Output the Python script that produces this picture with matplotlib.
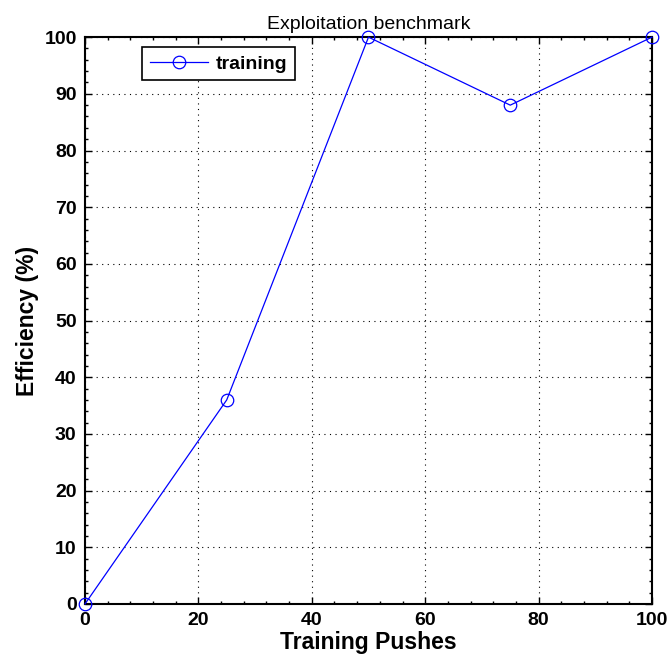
import matplotlib
matplotlib.use('Agg')
import matplotlib.pyplot as plt
from matplotlib.ticker import MultipleLocator

# data
pushes = [0, 25, 50, 75, 100]
efficiency = [0, 36, 100, 88, 100]

plt.rcParams['font.family'] = ['Liberation Sans', 'DejaVu Sans']

fig = plt.figure(figsize=(6.69, 6.63), dpi=100)
ax = fig.add_axes([0.127, 0.089, 0.8476, 0.855])

ax.plot(pushes, efficiency, color='blue', linewidth=0.9, marker='o',
        markersize=9, markerfacecolor='none', markeredgecolor='blue',
        markeredgewidth=0.9, label='training', clip_on=False, zorder=5)

ax.set_xlim(0, 100)
ax.set_ylim(0, 100)
ax.xaxis.set_major_locator(MultipleLocator(20))
ax.yaxis.set_major_locator(MultipleLocator(10))
ax.xaxis.set_minor_locator(MultipleLocator(4))
ax.yaxis.set_minor_locator(MultipleLocator(2))

ax.grid(True, which='major', linestyle=(0, (1, 4)), color='black', linewidth=0.8)
ax.tick_params(which='both', direction='in', top=True, right=True,
               labelsize=14, width=1.0)
ax.tick_params(which='major', length=5, pad=6)
ax.tick_params(which='minor', length=2.5)
for lbl in ax.get_xticklabels() + ax.get_yticklabels():
    lbl.set_fontweight('bold')
for sp in ax.spines.values():
    sp.set_linewidth(1.5)

ax.set_xlabel('Training Pushes', fontsize=16.5, fontweight='bold', labelpad=1)
ax.set_ylabel('Efficiency (%)', fontsize=16.5, fontweight='bold', labelpad=4)
ax.set_title('Exploitation benchmark', fontsize=14, pad=6)

leg = ax.legend(loc='upper left', bbox_to_anchor=(0.1005, 0.982),
                borderaxespad=0, prop={'weight': 'bold', 'size': 14},
                fancybox=False, framealpha=1, edgecolor='black',
                handlelength=3.0, handletextpad=0.4, borderpad=0.4)
leg.get_frame().set_linewidth(1.2)

fig.savefig('out.png', dpi=100)
